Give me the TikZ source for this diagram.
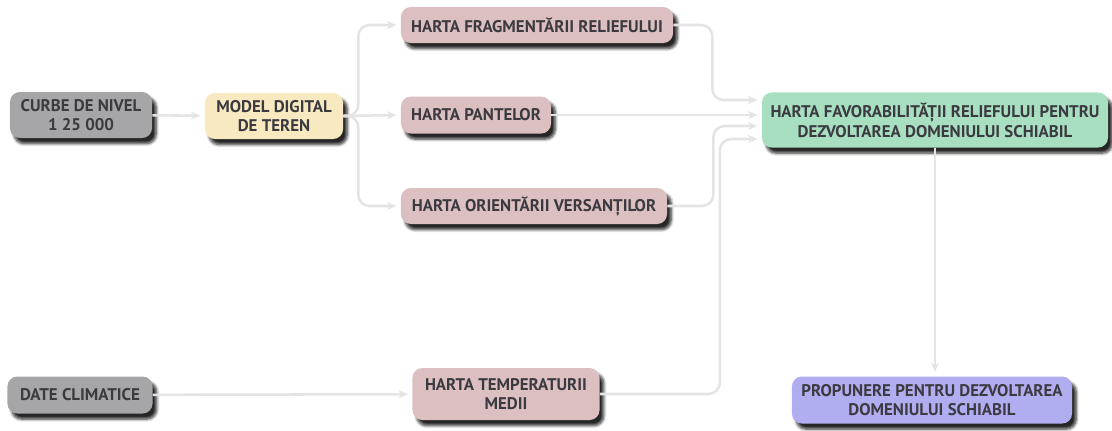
\documentclass[tikz,border=0pt]{standalone}
\usepackage{fontspec}
\setmainfont{PT Sans}
\usepackage{tikz}
\usetikzlibrary{arrows.meta, positioning, calc, shadows.blur}
\definecolor{cText}{RGB}{58,58,64}
\definecolor{cLine}{RGB}{228,228,228}
\definecolor{cGray}{RGB}{166,166,168}
\definecolor{cSand}{RGB}{248,233,192}
\definecolor{cRose}{RGB}{220,191,192}
\definecolor{cMint}{RGB}{168,223,192}
\definecolor{cLilac}{RGB}{176,174,240}
\tikzset{
	box/.style ={rectangle, rounded corners=7pt, align=center, text=cText, inner sep=2pt, font=\fontsize{12}{14}\selectfont\bfseries,
		blur shadow={shadow xshift=3pt, shadow yshift=-4pt, shadow blur steps=6, shadow opacity=85}},
	conn/.style={-{Stealth[length=2.4mm, width=2mm]}, line width=1.8pt, cLine, rounded corners=8pt, shorten >=3pt},
}

\begin{document}
\begin{tikzpicture}[x=0.025cm, y=-0.025cm]
	\useasboundingbox (0,0) rectangle (1112,430);
	% source nodes
	\node[box, fill=cGray, minimum width=3.55cm, minimum height=1.15cm] (curbe) at (81,115) {CURBE DE NIVEL\\1 25 000};
	\node[box, fill=cSand, minimum width=3.45cm, minimum height=1.15cm] (mdt) at (274,116) {MODEL DIGITAL\\DE TEREN};
	\node[box, fill=cGray, minimum width=3.625cm, minimum height=0.925cm] (clima) at (80,395) {DATE CLIMATICE};
	% derived maps
	\node[box, fill=cRose, minimum width=6.8cm, minimum height=0.9cm] (frag) at (537,25) {HARTA FRAGMENTĂRII RELIEFULUI};
	\node[box, fill=cRose, minimum width=3.75cm, minimum height=0.925cm] (pante) at (476,115) {HARTA PANTELOR};
	\node[box, fill=cRose, minimum width=6.65cm, minimum height=0.9cm] (orient) at (534,206) {HARTA ORIENTĂRII VERSANȚILOR};
	\node[box, fill=cRose, minimum width=4.675cm, minimum height=1.3cm] (temp) at (506,394) {HARTA TEMPERATURII\\MEDII};
	% results
	\node[box, fill=cMint, minimum width=8.65cm, minimum height=1.375cm] (fav) at (935,120) {HARTA FAVORABILITĂȚII RELIEFULUI PENTRU\\DEZVOLTAREA DOMENIULUI SCHIABIL};
	\node[box, fill=cLilac, minimum width=7cm, minimum height=1.175cm] (prop) at (932,400) {PROPUNERE PENTRU DEZVOLTAREA\\DOMENIULUI SCHIABIL};
	% entry points on the left side of fav
	\coordinate (in1) at (fav.west |- 0,100);
	\coordinate (in2) at (fav.west |- 0,115);
	\coordinate (in3) at (fav.west |- 0,126);
	\coordinate (in4) at (fav.west |- 0,139);
	% connectors
	\draw[conn] (curbe) -- (mdt);
	\draw[conn] (mdt.east) -- ++(15,0) |- (frag.west);
	\draw[conn] (mdt.east) -- (pante.west);
	\draw[conn] (mdt.east) -- ++(15,0) |- (orient.west);
	\draw[conn] (clima) -- (temp);
	\draw[conn] (frag.east) -- ++(39,0) |- (in1);
	\draw[conn] (pante.east) -- (in2);
	\draw[conn] (orient.east) -- ++(46,0) |- (in3);
	\draw[conn] (temp.east) -- ++(120,0) |- (in4);
	\draw[conn] (fav.south) -- (fav.south |- prop.north);
\end{tikzpicture}
\end{document}
